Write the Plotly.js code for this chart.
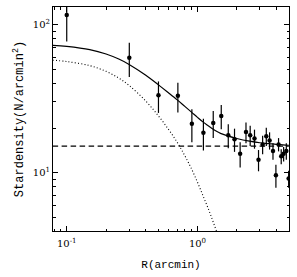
<!DOCTYPE html>
<html>
<head>
<meta charset="utf-8">
<script src="https://cdn.plot.ly/plotly-3.0.1.min.js"></script>
<style>html,body{margin:0;padding:0;background:#fff;}#chart{width:297px;height:277px;}</style>
</head>
<body>
<div id="chart"></div>
<script>
// Observed star density profile
var radius = [0.1, 0.301, 0.503, 0.708, 0.906, 1.11, 1.32, 1.52, 1.72, 1.92, 2.12, 2.35, 2.53, 2.73, 2.93, 3.15, 3.36, 3.56, 3.78, 3.98, 4.17, 4.37, 4.56, 4.78, 4.98];
var density = [116, 59.8, 33.3, 33.0, 21.4, 18.6, 21.6, 24.1, 17.9, 16.8, 13.4, 18.8, 17.9, 17.0, 12.2, 15.5, 17.6, 16.5, 14.0, 9.6, 15.5, 12.9, 13.4, 14.0, 9.1];
var densityErr = [39, 15.6, 8, 7.5, 5.4, 4.5, 4.5, 4.5, 3.3, 3, 2.6, 3, 2.8, 2.5, 2, 2.2, 2.5, 2.2, 1.8, 1.7, 1.6, 1.5, 1.5, 1.8, 1.2];

// Fitted profile
var fitR = [0.078, 0.1, 0.15, 0.2, 0.25, 0.3, 0.4, 0.5, 0.6, 0.7, 0.8, 0.9, 1.0, 1.1, 1.2, 1.3, 1.4, 1.5, 1.7, 2.0, 2.5, 3.0, 3.5, 4.0, 4.5, 5.0];
var fitTotal = [72.5, 71.3, 67.8, 63.3, 58.5, 53.8, 45.6, 39.3, 34.6, 31.0, 28.0, 25.6, 23.6, 22.0, 20.8, 19.8, 19.0, 18.4, 17.7, 17.0, 16.3, 15.9, 15.7, 15.5, 15.4, 15.3];
var coreR = [0.078, 0.1, 0.15, 0.2, 0.25, 0.3, 0.4, 0.5, 0.6, 0.7, 0.8, 0.9, 1.0, 1.1, 1.2, 1.3, 1.4, 1.5];
var coreDensity = [57.5, 56.3, 52.8, 48.3, 43.5, 38.8, 30.6, 24.3, 19.6, 16.0, 13.0, 10.6, 8.6, 7.0, 5.8, 4.8, 4.0, 3.4];
var bgR = [0.078, 5.0];
var background = [15.1, 15.1];

// Tick labels
var xTickVals = [0.1, 1];
var xTickText = ['10<sup>-1</sup>', '10<sup>0</sup>'];
var xMinor = [0.08, 0.09, 0.2, 0.3, 0.4, 0.5, 0.6, 0.7, 0.8, 0.9, 2, 3, 4, 5];
var yTickVals = [10, 100];
var yTickText = ['10<sup>1</sup>', '10<sup>2</sup>'];
var yMinor = [5, 6, 7, 8, 9, 20, 30, 40, 50, 60, 70, 80, 90];

var monoFont = '"Courier New", Courier, "Nimbus Mono PS", "Liberation Mono", monospace';

var traces = [
  {x: bgR, y: background, mode: 'lines', line: {color: '#000', width: 1.3, dash: '5.5px,3.5px'}, hoverinfo: 'skip'},
  {x: coreR, y: coreDensity, mode: 'lines', line: {color: '#000', width: 1.1, dash: '1px,2.2px', shape: 'spline'}, hoverinfo: 'skip'},
  {x: fitR, y: fitTotal, mode: 'lines', line: {color: '#000', width: 1.2, shape: 'spline'}, hoverinfo: 'skip'},
  {x: radius, y: density, mode: 'markers', marker: {color: '#000', size: 4.5},
   error_y: {type: 'data', array: densityErr, visible: true, color: '#000', thickness: 1.2, width: 0}}
];

var axisCommon = {
  type: 'log', showgrid: false, zeroline: false,
  showline: true, linecolor: '#000', linewidth: 1, mirror: 'allticks',
  ticks: 'inside', ticklen: 5, tickwidth: 1, tickcolor: '#000',
  tickmode: 'array',
  tickfont: {family: 'DejaVu Serif', size: 10, color: '#000'}
};

var layout = {
  width: 297, height: 277,
  margin: {l: 53, r: 8, t: 7, b: 46},
  paper_bgcolor: '#fff', plot_bgcolor: '#fff',
  showlegend: false,
  xaxis: Object.assign({}, axisCommon, {
    range: [-1.105, 0.70],
    tickvals: xTickVals, ticktext: xTickText,
    ticklabelstandoff: 3,
    minor: {tickvals: xMinor, ticks: 'inside', ticklen: 2.5, tickcolor: '#000', tickwidth: 1, showgrid: false},
    title: {text: 'R(arcmin)', font: {family: monoFont, size: 11, color: '#000'}, standoff: 12}
  }),
  yaxis: Object.assign({}, axisCommon, {
    range: [0.605, 2.119],
    tickvals: yTickVals, ticktext: yTickText,
    minor: {tickvals: yMinor, ticks: 'inside', ticklen: 2.5, tickcolor: '#000', tickwidth: 1, showgrid: false},
    title: {text: 'Stardensity(N/arcmin<sup>2</sup>)', font: {family: monoFont, size: 12, color: '#000'}, standoff: 6}
  })
};

Plotly.newPlot('chart', traces, layout, {staticPlot: true, displayModeBar: false});
</script>
</body>
</html>
